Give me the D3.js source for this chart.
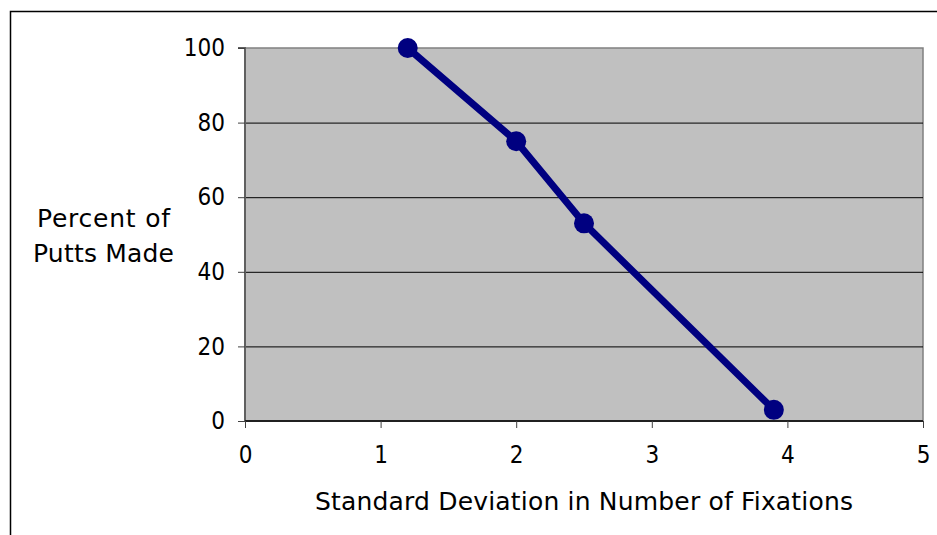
<!DOCTYPE html>
<html>
<head>
<meta charset="utf-8">
<script src="https://cdn.jsdelivr.net/npm/d3@7"></script>
<style>
  body { margin: 0; background: #fff; }
  svg text { font-family: "DejaVu Sans Condensed", "DejaVu Sans", sans-serif; font-stretch: condensed; fill: #000; }
  svg text.title { font-family: "DejaVu Sans", Verdana, sans-serif; font-stretch: normal; }
</style>
</head>
<body>
<div id="chart"></div>
<script>
// data
const sdFixations = [1.2, 2, 2.5, 3.9];
const puttsMade = [100, 75, 53, 3];
const xTicks = [0, 1, 2, 3, 4, 5];
const yTicks = [0, 20, 40, 60, 80, 100];

const width = 937;
const height = 535;
const margin = { top: 48, right: 14, bottom: 114, left: 245 };
const tickFont = 24;
const titleFont = 25;

const svg = d3.select("#chart").append("svg")
    .attr("width", width)
    .attr("height", height);

// outer frame (runs past the window on right and bottom)
svg.append("rect")
    .attr("x", 10.5).attr("y", 11.5)
    .attr("width", 940).attr("height", 540)
    .attr("fill", "none").attr("stroke", "#000").attr("stroke-width", 1.5);

const x = d3.scaleLinear().domain([0, 5]).range([margin.left, width - margin.right]);
const y = d3.scaleLinear().domain([0, 100]).range([height - margin.bottom, margin.top]);

// plot area
svg.append("rect")
    .attr("x", x(0)).attr("y", y(100))
    .attr("width", x(5) - x(0)).attr("height", y(0) - y(100))
    .attr("fill", "#c0c0c0")
    .attr("stroke", "#808080").attr("stroke-width", 1.5);

// gridlines
svg.append("g")
    .selectAll("line")
    .data(yTicks.filter(d => d > 0 && d < 100))
    .join("line")
    .attr("x1", x(0)).attr("x2", x(5))
    .attr("y1", d => y(d) + 0.5).attr("y2", d => y(d) + 0.5)
    .attr("stroke", "#000").attr("stroke-width", 1);

// axes
const yAxis = svg.append("g")
    .attr("transform", `translate(${x(0)},0)`)
    .call(d3.axisLeft(y).tickValues(yTicks).tickFormat(d3.format("d")).tickSize(7).tickPadding(13));
const xAxis = svg.append("g")
    .attr("transform", `translate(0,${y(0)})`)
    .call(d3.axisBottom(x).tickValues(xTicks).tickFormat(d3.format("d")).tickSize(7).tickPadding(18));

[yAxis, xAxis].forEach(g => {
    g.selectAll(".tick line").attr("stroke", "#404040");
    g.selectAll(".tick text").attr("font-size", tickFont + "px");
});
yAxis.select(".domain").attr("stroke", "#606060").attr("stroke-width", 2)
    .attr("d", `M-7,${y(100)}H0V${y(0)}`);
xAxis.select(".domain").attr("stroke", "#202020").attr("stroke-width", 2)
    .attr("d", `M${x(0)},0H${x(5)}`);

// series line and markers
const line = d3.line()
    .x((d, i) => x(sdFixations[i]))
    .y(d => y(d));

svg.append("path")
    .datum(puttsMade)
    .attr("d", line)
    .attr("fill", "none")
    .attr("stroke", "#000080")
    .attr("stroke-width", 7)
    .attr("stroke-linejoin", "round");

svg.append("g")
    .selectAll("circle")
    .data(puttsMade)
    .join("circle")
    .attr("cx", (d, i) => x(sdFixations[i]))
    .attr("cy", d => y(d))
    .attr("r", 10)
    .attr("fill", "#000080");

// axis titles
svg.append("text")
    .attr("class", "title")
    .attr("x", 315).attr("y", 510)
    .attr("font-size", titleFont + "px")
    .attr("textLength", 538)
    .attr("lengthAdjust", "spacing")
    .text("Standard Deviation in Number of Fixations");

const yTitle = svg.append("g").attr("font-size", titleFont + "px");
yTitle.append("text").attr("class", "title").attr("x", 37).attr("y", 227)
    .attr("textLength", 133).attr("lengthAdjust", "spacing")
    .text("Percent of");
yTitle.append("text").attr("class", "title").attr("x", 33).attr("y", 261.5)
    .attr("textLength", 141).attr("lengthAdjust", "spacing")
    .text("Putts Made");
</script>
</body>
</html>
